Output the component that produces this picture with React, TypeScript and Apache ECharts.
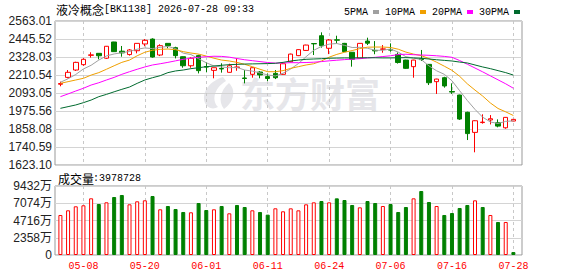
import React, { useEffect, useRef } from 'react';
import * as echarts from 'echarts';

const titleName = '液冷概念';
const titleCode = '[BK1138] 2026-07-28 09:33';
const volTitle = '成交量';
const volValueText = ':3978728';
const watermarkText = '东方财富';

const dates = [
  '04-30', '05-06', '05-07', '05-08', '05-11', '05-12', '05-13', '05-14', '05-15', '05-18',
  '05-19', '05-20', '05-21', '05-22', '05-25', '05-26', '05-27', '05-28', '05-29', '06-01',
  '06-02', '06-03', '06-04', '06-05', '06-08', '06-09', '06-10', '06-11', '06-12', '06-15',
  '06-16', '06-17', '06-18', '06-22', '06-23', '06-24', '06-25', '06-26', '06-29', '06-30',
  '07-01', '07-02', '07-03', '07-06', '07-07', '07-08', '07-09', '07-10', '07-13', '07-14',
  '07-15', '07-16', '07-17', '07-20', '07-21', '07-22', '07-23', '07-24', '07-27', '07-28',
];
const labelDates = ['05-08', '05-20', '06-01', '06-11', '06-24', '07-06', '07-16', '07-28'];

const openP = [
  2150, 2195, 2243, 2278, 2339, 2352, 2320, 2426, 2366, 2344,
  2369, 2413, 2445, 2341, 2417, 2389, 2330, 2271, 2337, 2266,
  2241, 2253, 2228, 2259, 2191, 2215, 2230, 2200, 2221, 2215,
  2297, 2337, 2371, 2416, 2467, 2385, 2440, 2417, 2359, 2320,
  2432, 2371, 2378, 2376, 2345, 2308, 2265, 2316, 2280, 2167,
  2193, 2103, 2080, 1967, 1836, 1900, 1917, 1899, 1866, 1910,
];
const closeP = [
  2155, 2228, 2293, 2313, 2342, 2336, 2398, 2363, 2355, 2374,
  2417, 2437, 2328, 2402, 2402, 2337, 2271, 2320, 2239, 2262,
  2258, 2250, 2271, 2263, 2188, 2258, 2211, 2188, 2193, 2284,
  2347, 2376, 2406, 2414, 2402, 2439, 2438, 2363, 2313, 2417,
  2418, 2368, 2381, 2373, 2292, 2254, 2308, 2311, 2160, 2184,
  2139, 2099, 1923, 1828, 1912, 1903, 1925, 1877, 1934, 1921,
];
const lowP = [
  2137, 2189, 2237, 2271, 2324, 2313, 2315, 2362, 2330, 2337,
  2352, 2398, 2324, 2334, 2385, 2319, 2258, 2258, 2221, 2228,
  2189, 2226, 2227, 2238, 2156, 2193, 2189, 2171, 2184, 2212,
  2293, 2334, 2369, 2341, 2389, 2347, 2417, 2360, 2265, 2318,
  2406, 2346, 2356, 2363, 2285, 2250, 2193, 2302, 2145, 2087,
  2128, 2087, 1917, 1786, 1706, 1893, 1888, 1869, 1860, 1909,
];
const highP = [
  2167, 2243, 2297, 2320, 2359, 2353, 2400, 2427, 2400, 2380,
  2418, 2445, 2450, 2411, 2418, 2395, 2332, 2326, 2343, 2293,
  2259, 2287, 2284, 2320, 2243, 2259, 2236, 2221, 2243, 2290,
  2350, 2378, 2408, 2417, 2489, 2445, 2467, 2420, 2360, 2419,
  2454, 2432, 2406, 2417, 2358, 2310, 2310, 2374, 2282, 2186,
  2199, 2156, 2082, 1971, 1915, 1954, 1949, 1921, 1936, 1922,
];

const ma5 = [
  2163, 2186, 2214, 2250, 2274, 2308, 2335, 2348, 2356, 2364,
  2379, 2387, 2383, 2391, 2397, 2383, 2353, 2344, 2317, 2290,
  2270, 2263, 2258, 2260, 2243, 2236, 2224, 2211, 2204, 2222,
  2250, 2285, 2330, 2372, 2397, 2412, 2416, 2404, 2390, 2391,
  2385, 2372, 2372, 2380, 2360, 2330, 2321, 2311, 2270, 2238,
  2215, 2173, 2108, 2044, 1986, 1935, 1904, 1894, 1908, 1911,
];
const ma10 = [
  2156, 2167, 2178, 2189, 2210, 2226, 2248, 2271, 2293, 2308,
  2336, 2359, 2372, 2378, 2380, 2376, 2363, 2354, 2347, 2334,
  2320, 2308, 2302, 2293, 2280, 2265, 2248, 2232, 2232, 2239,
  2254, 2265, 2276, 2284, 2302, 2327, 2345, 2359, 2370, 2383,
  2392, 2393, 2393, 2390, 2379, 2360, 2347, 2337, 2318, 2294,
  2268, 2241, 2202, 2153, 2112, 2073, 2028, 1992, 1970, 1946,
];
const ma20 = [
  2069, 2087, 2106, 2124, 2145, 2160, 2178, 2195, 2215, 2232,
  2248, 2263, 2276, 2284, 2293, 2303, 2313, 2320, 2326, 2330,
  2333, 2332, 2327, 2318, 2310, 2304, 2298, 2292, 2288, 2289,
  2291, 2291, 2292, 2294, 2298, 2303, 2307, 2311, 2314, 2317,
  2322, 2326, 2331, 2336, 2344, 2346, 2343, 2341, 2339, 2336,
  2332, 2326, 2305, 2281, 2256, 2231, 2205, 2179, 2153, 2124,
];
const ma30 = [
  1993, 2004, 2015, 2030, 2047, 2069, 2084, 2101, 2117, 2132,
  2156, 2178, 2193, 2206, 2226, 2237, 2243, 2252, 2258, 2265,
  2269, 2274, 2278, 2280, 2282, 2283, 2284, 2285, 2287, 2293,
  2302, 2308, 2313, 2315, 2317, 2320, 2321, 2322, 2322, 2323,
  2323, 2323, 2322, 2322, 2323, 2324, 2322, 2320, 2315, 2310,
  2306, 2302, 2295, 2289, 2276, 2263, 2252, 2239, 2226, 2210,
];

// volume in 万
const volume = [
  5468, 6110, 6657, 6794, 7750, 6971, 7204, 7928, 8202, 6930,
  7340, 7477, 8065, 6247, 6698, 6288, 5878, 5837, 7108, 6151,
  6247, 6698, 5700, 6835, 6561, 6110, 5878, 5513, 6384, 5973,
  6379, 6105, 6926, 7200, 7381, 7200, 7746, 7518, 6835, 6515,
  7381, 7108, 6698, 6971, 5878, 6561, 7746, 8748, 7245, 6698,
  5468, 5741, 6425, 6835, 7473, 6561, 5468, 4511, 4511, 398,
];
const volumeUp = [
  1, 1, 1, 1, 1, 0, 1, 0, 0, 1,
  1, 1, 0, 1, 0, 0, 0, 1, 0, 0,
  1, 0, 1, 0, 0, 1, 0, 0, 1, 1,
  1, 1, 1, 1, 0, 1, 0, 0, 0, 1,
  0, 0, 1, 0, 0, 0, 1, 0, 0, 1,
  0, 0, 0, 0, 1, 0, 1, 0, 1, 0,
];

const maNames = ['5PMA', '10PMA', '20PMA', '30PMA'];
const maColors = ['#a0a0a0', '#f0a000', '#ff00ff', '#006a2e'];
const maData = [ma5, ma10, ma20, ma30];

const priceMin = 1623.10;
const priceMax = 2563.01;
const priceTicks = ['1623.10', '1740.59', '1858.08', '1975.56', '2093.05', '2210.54', '2328.03', '2445.52', '2563.01'];
const volMax = 9432;
const volTicks = ['0', '2358万', '4716万', '7074万', '9432万'];

const UP = '#ff0000';
const DOWN = '#008000';
const fontMono = "'Liberation Mono', 'DejaVu Sans Mono', monospace";
const fontSans = "'Liberation Sans', Arial, 'Noto Sans CJK SC', sans-serif";
const fontCJK = "'Noto Sans CJK SC', sans-serif";

let logoRegistered = false;
function registerLogo() {
  if (logoRegistered) return;
  const d =
    'M22 0 C9 4 0 15 4 26 C6 31 12 33 17 30 C11 24 12 12 25 4 Z ' +
    'M28 6 C19 14 17 24 23 32 C32 26 36 14 28 6 Z';
  echarts.graphic.registerShape('emLogo', echarts.graphic.extendPath(d, {}) as any);
  logoRegistered = true;
}

export default function App() {
  const ref = useRef<HTMLDivElement>(null);

  useEffect(() => {
    if (!ref.current) return;
    registerLogo();
    const chart = echarts.init(ref.current, null, { renderer: 'svg' });
    const priceInterval = (priceMax - priceMin) / (priceTicks.length - 1);
    const volInterval = volMax / (volTicks.length - 1);
    const showLabel = (_i: number, v: string) => labelDates.includes(v);

    const option: any = {
      animation: false,
      backgroundColor: '#ffffff',
      legend: {
        data: maNames,
        left: 339,
        top: 2,
        icon: 'rect',
        itemWidth: 6,
        itemHeight: 4,
        itemGap: 6,
        align: 'right',
        selectedMode: false,
        textStyle: { fontFamily: fontMono, fontSize: 10, color: '#000' },
      },
      grid: [
        { left: 55, top: 21, width: 467, height: 144, show: true, borderColor: '#999', borderWidth: 1 },
        { left: 60.4, top: 21, width: 453, height: 144 },
        { left: 55, top: 186, width: 467, height: 69, show: true, borderColor: '#999', borderWidth: 1 },
        { left: 60.4, top: 186, width: 453, height: 69 },
      ],
      xAxis: [
        { gridIndex: 0, type: 'value', show: false, min: 0, max: 1 },
        {
          gridIndex: 1, type: 'category', data: dates, boundaryGap: false,
          axisLine: { show: false }, axisTick: { show: false }, axisLabel: { show: false },
          splitLine: { show: true, interval: showLabel, lineStyle: { color: '#c8c8c8', type: [3, 3], width: 1 } },
        },
        { gridIndex: 2, type: 'value', show: false, min: 0, max: 1 },
        {
          gridIndex: 3, type: 'category', data: dates, boundaryGap: false,
          axisLine: { show: false }, axisTick: { show: false },
          axisLabel: { show: true, interval: showLabel, color: '#ff0000', fontFamily: fontMono, fontSize: 10, margin: 6 },
          splitLine: { show: true, interval: showLabel, lineStyle: { color: '#c8c8c8', type: [3, 3], width: 1 } },
        },
      ],
      yAxis: [
        {
          gridIndex: 0, type: 'value', min: priceMin, max: priceMax, interval: priceInterval,
          axisLine: { show: false }, axisTick: { show: false },
          axisLabel: {
            color: '#222', fontFamily: fontSans, fontSize: 12, margin: 3,
            formatter: (v: number) => priceTicks[Math.round((v - priceMin) / priceInterval)] ?? '',
          },
          splitLine: { show: true, lineStyle: { color: '#d4d4d4', width: 1 } },
        },
        { gridIndex: 1, type: 'value', min: priceMin, max: priceMax, show: false, splitLine: { show: false } },
        {
          gridIndex: 2, type: 'value', min: 0, max: volMax, interval: volInterval,
          axisLine: { show: false }, axisTick: { show: false },
          axisLabel: {
            color: '#222', fontFamily: fontSans, fontSize: 12, margin: 3,
            formatter: (v: number) => volTicks[Math.round(v / volInterval)] ?? '',
          },
          splitLine: { show: true, lineStyle: { color: '#d4d4d4', width: 1 } },
        },
        { gridIndex: 3, type: 'value', min: 0, max: volMax, show: false, splitLine: { show: false } },
      ],
      graphic: [
        {
          type: 'emLogo', x: 201, y: 77, scaleX: 1, scaleY: 1, z: 0, silent: true,
          style: { fill: '#e6e6ea' },
        },
        {
          type: 'text', x: 240, y: 92, z: 0, silent: true,
          style: {
            text: watermarkText, fill: '#e6e6ea', fontSize: 35, fontWeight: 'bold',
            fontFamily: fontCJK, textVerticalAlign: 'middle', verticalAlign: 'middle',
          },
        },
        {
          type: 'text', x: 56, y: 9, z: 10,
          style: { text: titleName, fill: '#000', fontSize: 12, fontFamily: fontCJK, textVerticalAlign: 'middle', verticalAlign: 'middle' },
        },
        {
          type: 'text', x: 104, y: 9, z: 10,
          style: { text: titleCode, fill: '#000', fontSize: 10, fontFamily: fontMono, textVerticalAlign: 'middle', verticalAlign: 'middle' },
        },
        {
          type: 'text', x: 58, y: 178, z: 10,
          style: { text: volTitle, fill: '#000', fontSize: 12, fontFamily: fontCJK, textVerticalAlign: 'middle', verticalAlign: 'middle' },
        },
        {
          type: 'text', x: 93, y: 178, z: 10,
          style: { text: volValueText, fill: '#000', fontSize: 10, fontFamily: fontMono, textVerticalAlign: 'middle', verticalAlign: 'middle' },
        },
      ],
      series: [
        {
          name: 'K', type: 'candlestick', xAxisIndex: 1, yAxisIndex: 1, barWidth: 5, clip: false,
          data: dates.map((_, i) => [openP[i], closeP[i], lowP[i], highP[i]]),
          itemStyle: { color: '#ffffff', color0: DOWN, borderColor: UP, borderColor0: DOWN, borderWidth: 1 },
        },
        ...maNames.map((name, k) => ({
          name, type: 'line', xAxisIndex: 1, yAxisIndex: 1, data: maData[k],
          symbol: 'none', showSymbol: false, smooth: false, clip: false,
          color: maColors[k], lineStyle: { color: maColors[k], width: 1 },
        })),
        {
          name: 'VOL', type: 'bar', xAxisIndex: 3, yAxisIndex: 3, barWidth: 4, clip: false,
          data: volume.map((v, i) => ({
            value: v,
            itemStyle: volumeUp[i]
              ? { color: '#ffffff', borderColor: UP, borderWidth: 1 }
              : { color: DOWN, borderColor: DOWN, borderWidth: 1 },
          })),
        },
      ],
    };

    chart.setOption(option);
    return () => chart.dispose();
  }, []);

  return <div ref={ref} style={{ position: 'fixed', left: 0, top: 0, width: 578, height: 276 }} />;
}
